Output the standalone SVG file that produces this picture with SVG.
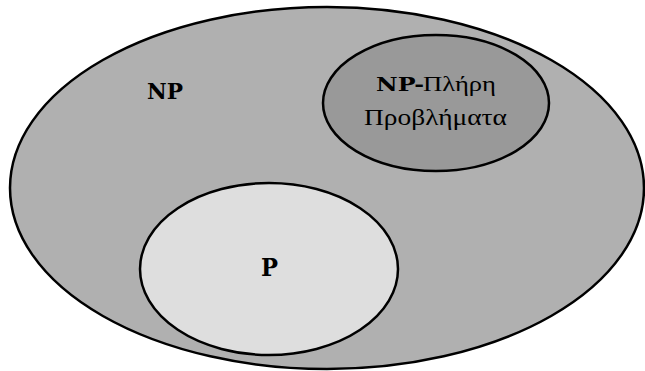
<svg xmlns="http://www.w3.org/2000/svg" width="645" height="371" viewBox="0 0 645 371">
  <style>
    .set { stroke: #000; stroke-width: 2.5; }
    .np { fill: #b0b0b0; }
    .npc { fill: #999999; }
    .p { fill: #dedede; }
    .bold { font-family: "DejaVu Serif", "Liberation Serif", serif; font-weight: bold; fill: #000; }
    .greek { font-family: "Liberation Serif", "DejaVu Serif", serif; fill: #000; }
  </style>
  <rect width="645" height="371" fill="#ffffff"/>
  <g id="np-set">
    <ellipse class="set np" cx="327" cy="188" rx="317" ry="181"/>
    <text class="bold" x="147" y="99" font-size="22" textLength="36" lengthAdjust="spacingAndGlyphs">NP</text>
  </g>
  <g id="np-complete">
    <ellipse class="set npc" cx="436" cy="103" rx="113" ry="68"/>
    <text class="bold" x="376" y="91" font-size="19" textLength="48" lengthAdjust="spacingAndGlyphs">NP-</text>
    <text class="greek" x="423" y="91" font-size="22" textLength="73" lengthAdjust="spacingAndGlyphs">Πλήρη</text>
    <text class="greek" x="364" y="125" font-size="23" textLength="143" lengthAdjust="spacingAndGlyphs">Προβλήματα</text>
  </g>
  <g id="p-set">
    <ellipse class="set p" cx="269" cy="269" rx="129" ry="86"/>
    <text class="bold" x="261" y="276" font-size="24" textLength="17" lengthAdjust="spacingAndGlyphs">P</text>
  </g>
</svg>
